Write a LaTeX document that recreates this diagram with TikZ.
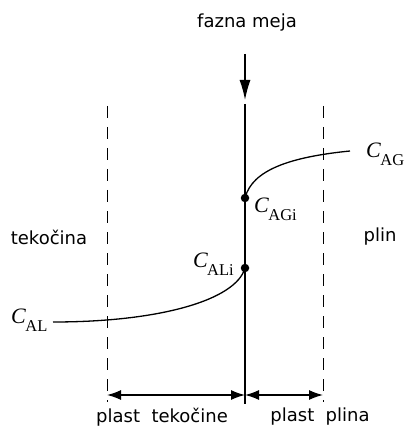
\documentclass[tikz,border=0pt]{standalone}
\usepackage{fontspec}
\setmainfont{Liberation Serif}
\setsansfont{DejaVu Sans}
\usetikzlibrary{arrows.meta}
\newcommand{\csub}[1]{{\fontsize{22}{24}\selectfont\itshape C}\kern-0.5pt\raisebox{-8pt}{\fontsize{16.5}{17}\selectfont #1}}
\begin{document}
\begin{tikzpicture}[x=1pt,y=-1pt,
  lbl/.style={font=\sffamily\fontsize{18}{20}\selectfont, inner sep=0pt},
  clbl/.style={inner sep=0pt},
  dashline/.style={line width=1pt, dash pattern=on 12pt off 9pt},
  solidline/.style={line width=1.3pt},
  tip/.style={-{Latex[length=20pt,width=11pt]}},
  dimtip/.style={{Latex[length=14pt,width=10pt]}-{Latex[length=14pt,width=10pt]}},
  dot/.style={circle, fill=black, inner sep=0pt, minimum size=8.5pt}]
\useasboundingbox (0,0) rectangle (404,430);
% texts
\node[lbl] (fm) at (247,23) {fazna meja};
\node[lbl] (tek) at (49,237) {tekočina};
\node[lbl] (plin) at (380,237) {plin};
\node[lbl] (pt) at (162,417) {plast\ \ tekočine};
\node[lbl] (pp) at (320,417) {plast\ \ plina};
% coordinates
\coordinate (atop) at (245,54);
\coordinate (abot) at (245,100);
\coordinate (itop) at (245,104);
\coordinate (ibot) at (245,404);
\coordinate (ltop) at (107,106);
\coordinate (lbot) at (107,402);
\coordinate (rtop) at (323,106);
\coordinate (rbot) at (323,402);
\coordinate (bl) at (107,395);
\coordinate (bm) at (245,395);
\coordinate (br) at (323,395);
% lines
\draw[solidline, tip] (atop) -- (abot);
\draw[solidline] (itop) -- (ibot);
\draw[dashline] (ltop) -- (lbot);
\draw[dashline] (rtop) -- (rbot);
\draw[solidline, dimtip] (bl) -- (bm);
\draw[solidline, dimtip] (bm) -- (br);
% points
\node[dot] (agi) at (245,198) {};
\node[dot] (ali) at (245,268) {};
\coordinate (agend) at (350,151);
\coordinate (alstart) at (53,322);
\draw[solidline] (agi.center) .. controls (252,170) and (290,157) .. (agend);
\draw[solidline] (alstart) .. controls (160,322) and (236,300) .. (ali.center);
% C labels
\node[clbl, anchor=base west] (cag) at (366,158) {\csub{AG}};
\node[clbl, anchor=base west] (cagi) at (254,212) {\csub{AGi}};
\node[clbl, anchor=base east] (cali) at (234,267) {\csub{ALi}};
\node[clbl, anchor=base west] (cal) at (11,323) {\csub{AL}};
\end{tikzpicture}
\end{document}
